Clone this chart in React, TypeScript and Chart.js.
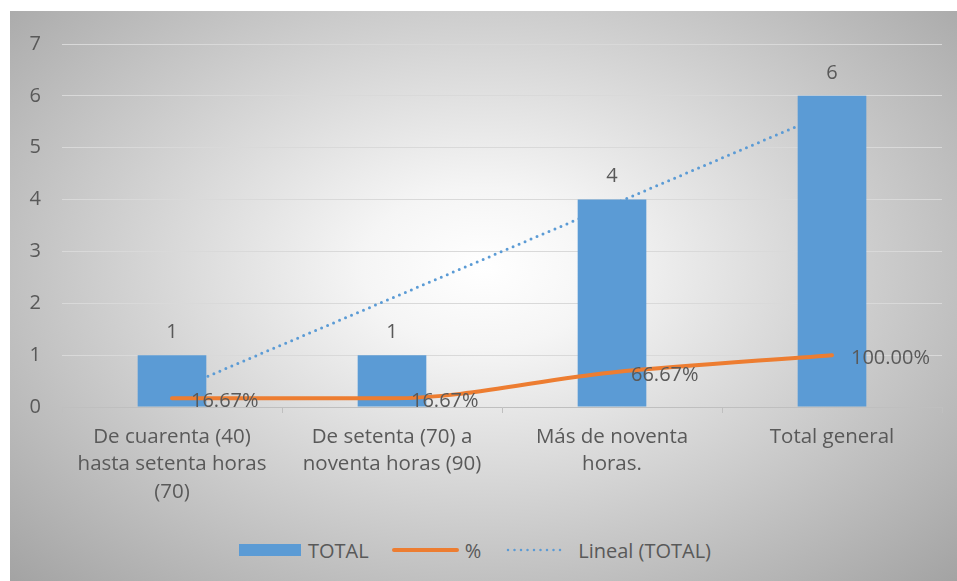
import React, { useEffect, useRef } from "react";
import { Chart, registerables } from "chart.js";

Chart.register(...registerables);

const categories: string[][] = [
  ["De cuarenta (40)", "hasta setenta horas", "(70)"],
  ["De setenta (70) a", "noventa horas (90)"],
  ["Más de noventa", "horas."],
  ["Total general"],
];
const totalValues = [1, 1, 4, 6];
const percentValues = [0.1667, 0.1667, 0.6667, 1.0];
const percentLabels = ["16.67%", "16.67%", "66.67%", "100.00%"];
const trendValues = [0.3, 2.1, 3.9, 5.7];
const yTicks = [0, 1, 2, 3, 4, 5, 6, 7];

const BLUE = "#5B9BD5";
const ORANGE = "#ED7D31";
const TEXT = "#595959";
const FONT = "'Open Sans', 'Noto Sans', sans-serif";

const labelPlugin = {
  id: "valueLabels",
  afterDatasetsDraw(chart: any) {
    const ctx = chart.ctx;
    ctx.save();
    ctx.font = `20px ${FONT}`;
    ctx.fillStyle = TEXT;
    const barMeta = chart.getDatasetMeta(0);
    barMeta.data.forEach((el: any, i: number) => {
      ctx.textAlign = "center";
      ctx.textBaseline = "bottom";
      ctx.fillText(String(totalValues[i]), el.x, el.y - 13);
    });
    const lineMeta = chart.getDatasetMeta(1);
    lineMeta.data.forEach((el: any, i: number) => {
      ctx.textAlign = "left";
      ctx.textBaseline = "middle";
      ctx.fillText(percentLabels[i], el.x + 19, el.y + 3);
    });
    ctx.restore();
  },
};

export default function App() {
  const canvasRef = useRef<HTMLCanvasElement | null>(null);

  useEffect(() => {
    if (!canvasRef.current) return;
    const chart = new Chart(canvasRef.current, {
      type: "bar",
      data: {
        labels: categories as any,
        datasets: [
          {
            type: "bar",
            label: "TOTAL",
            data: totalValues,
            backgroundColor: BLUE,
            categoryPercentage: 0.8,
            barPercentage: 0.39,
            order: 1,
          },
          {
            type: "line",
            label: "%",
            data: percentValues,
            borderColor: ORANGE,
            borderWidth: 4,
            pointRadius: 0,
            cubicInterpolationMode: "monotone",
            borderCapStyle: "round",
            order: 0,
          },
          {
            type: "line",
            label: "Lineal (TOTAL)",
            data: trendValues,
            borderColor: BLUE,
            borderWidth: 3,
            borderDash: [0, 6.5],
            borderCapStyle: "round",
            pointRadius: 0,
            tension: 0,
            order: 2,
          },
        ] as any,
      },
      options: {
        animation: false,
        responsive: true,
        maintainAspectRatio: false,
        layout: { padding: { top: 30, right: 15, left: 0, bottom: 0 } },
        plugins: {
          legend: { display: false },
          tooltip: { enabled: false },
        },
        scales: {
          x: {
            afterFit: (s: any) => {
              s.height = 124;
            },
            grid: {
              display: true,
              drawOnChartArea: false,
              drawTicks: true,
              tickLength: 6,
              color: "#bfbfbf",
              offset: true,
            },
            border: { display: true, color: "#bfbfbf", width: 1 },
            ticks: {
              color: TEXT,
              font: { family: FONT, size: 20.5, lineHeight: 1.34 },
              padding: 10,
              maxRotation: 0,
              autoSkip: false,
            },
          },
          y: {
            min: 0,
            max: 7,
            afterFit: (s: any) => {
              s.width = 52;
            },
            afterBuildTicks: (s: any) => {
              s.ticks = yTicks.map((v) => ({ value: v }));
            },
            grid: { color: "#d9d9d9", drawTicks: false, lineWidth: 1 },
            border: { display: false },
            ticks: {
              color: TEXT,
              font: { family: FONT, size: 20 },
              padding: 21,
            },
          },
        },
      },
      plugins: [labelPlugin],
    });
    return () => chart.destroy();
  }, []);

  const legendText: React.CSSProperties = {
    fontFamily: FONT,
    fontSize: 20,
    color: TEXT,
    whiteSpace: "nowrap",
  };

  return (
    <div
      style={{
        position: "absolute",
        left: 10,
        top: 11,
        width: 947,
        height: 570,
        background:
          "radial-gradient(farthest-corner at 50% 45%, #ffffff 0%, #f5f5f5 18%, #a3a3a3 100%)",
        overflow: "hidden",
      }}
    >
      <div style={{ position: "absolute", left: 0, top: 0, width: 947, height: 520 }}>
        <canvas ref={canvasRef} />
      </div>
      <div
        style={{
          position: "absolute",
          left: 0,
          top: 526,
          width: 930,
          height: 26,
          display: "flex",
          justifyContent: "center",
          alignItems: "center",
        }}
      >
        <div style={{ width: 62, height: 12, background: BLUE, marginRight: 7 }} />
        <span style={legendText}>TOTAL</span>
        <svg width={70} height={10} style={{ marginLeft: 22, marginRight: 4 }}>
          <line x1={3} y1={5} x2={66} y2={5} stroke={ORANGE} strokeWidth={4} strokeLinecap="round" />
        </svg>
        <span style={legendText}>%</span>
        <svg width={62} height={10} style={{ marginLeft: 25, marginRight: 10 }}>
          <line x1={2} y1={5} x2={60} y2={5} stroke={BLUE} strokeWidth={2.5} strokeDasharray="0 6.5" strokeLinecap="round" />
        </svg>
        <span style={legendText}>Lineal (TOTAL)</span>
      </div>
    </div>
  );
}
